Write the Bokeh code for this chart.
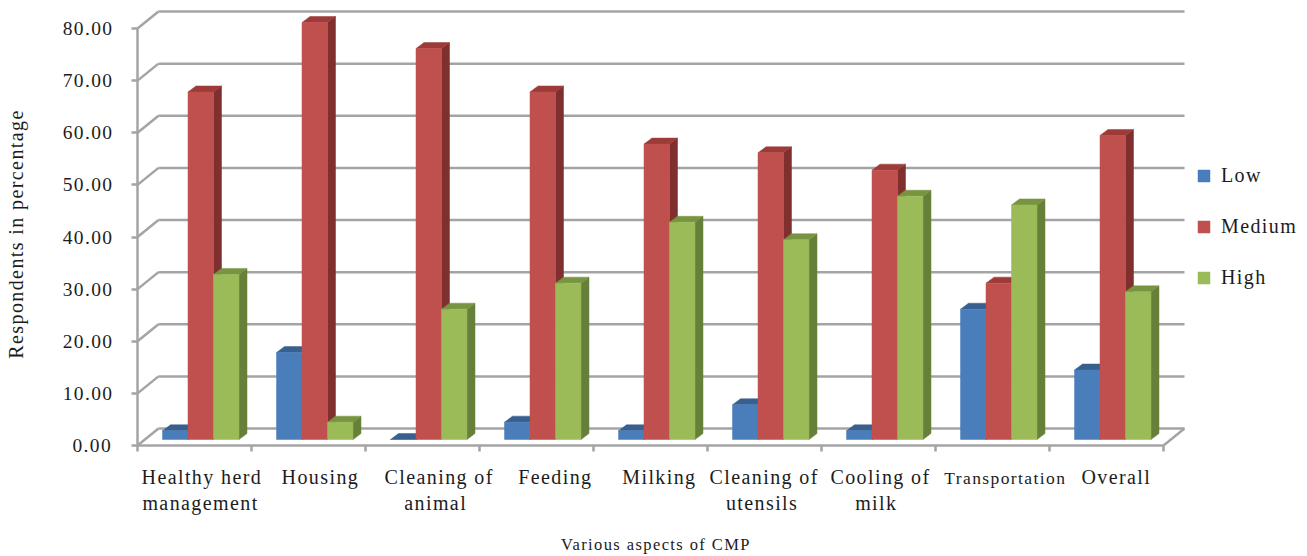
from bokeh.embed import file_html
from bokeh.models import FixedTicker, Label, Legend, LegendItem, LinearAxis, NumeralTickFormatter, Range1d
from bokeh.plotting import figure
from bokeh.resources import INLINE

# Respondents (%) by aspect of clean milk production
categories = [
    "Healthy herd\nmanagement", "Housing", "Cleaning of\nanimal",
    "Feeding", "Milking", "Cleaning of\nutensils",
    "Cooling of\nmilk", "Transportation", "Overall",
]
low = [1.67, 16.67, 0.0, 3.33, 1.67, 6.67, 1.67, 25.0, 13.33]
medium = [66.67, 80.0, 75.0, 66.67, 56.67, 55.0, 51.67, 30.0, 58.33]
high = [31.67, 3.33, 25.0, 30.0, 41.67, 38.33, 46.67, 45.0, 28.33]
y_ticks = [0, 10, 20, 30, 40, 50, 60, 70, 80]

# Page geometry, in pixels
W, H = 1307, 556
AXIS_X, AXIS_Y = 137, 445
PX_PER_CATEGORY = 114.0
PX_PER_TEN = 52.125


def data_x(px):
    return (px - AXIS_X) / PX_PER_CATEGORY


def data_y(px):
    return (AXIS_Y - px) / PX_PER_TEN * 10


WALL_DX = 21 / PX_PER_CATEGORY
WALL_DY = 17 / PX_PER_TEN * 10
BAR_W = 25.5 / PX_PER_CATEGORY
BAR_START = 25 / PX_PER_CATEGORY
BASE = 6 / PX_PER_TEN * 10
SIDE_DX = 8 / PX_PER_CATEGORY
TOP_DY = 6 / PX_PER_TEN * 10

GRID = "#a4a4a4"
GRID_W = 2.5
TEXT = "#1c1c1c"
FONT = "Liberation Serif"

# The frame fills the page; both axes sit inside it at fixed locations
p = figure(
    width=W, height=H, output_backend="svg", toolbar_location=None,
    x_range=Range1d(data_x(0), data_x(W)), y_range=Range1d(data_y(H), data_y(0)),
    x_axis_location=None, y_axis_location=None,
    min_border_left=0, min_border_right=0, min_border_top=0, min_border_bottom=0,
)
p.outline_line_color = None
p.grid.visible = False
# Widely tracked serif lettering throughout the chart
p.styles = {"letter-spacing": "1.4px"}

# Back wall and floor of the chart box
wall_y = [v + WALL_DY for v in y_ticks]
p.segment([WALL_DX] * len(y_ticks), wall_y, [9 + WALL_DX] * len(y_ticks), wall_y,
          line_color=GRID, line_width=GRID_W)
p.segment([0] * len(y_ticks), y_ticks, [WALL_DX] * len(y_ticks), wall_y,
          line_color=GRID, line_width=GRID_W)
p.segment([9], [0], [9 + WALL_DX], [WALL_DY], line_color=GRID, line_width=GRID_W)

# Each series: name, values, front / side / top colours
series = [
    ("Low", low, "#4a7ebb", "#2f5585", "#38608f"),
    ("Medium", medium, "#c0504d", "#7f2f2d", "#9c3b38"),
    ("High", high, "#9bbb59", "#66803a", "#789440"),
]

items = []
for k, (name, values, front, side, top) in enumerate(series):
    left = [i + BAR_START + k * BAR_W for i in range(9)]
    right = [x + BAR_W for x in left]
    tops = [BASE + v for v in values]
    p.patches(
        [[r, r + SIDE_DX, r + SIDE_DX, r] for r in right],
        [[BASE, BASE + TOP_DY, t + TOP_DY, t] for t in tops],
        fill_color=side, line_color=side, line_width=0.5,
    )
    p.patches(
        [[l, l + SIDE_DX, r + SIDE_DX, r] for l, r in zip(left, right)],
        [[t, t + TOP_DY, t + TOP_DY, t] for t in tops],
        fill_color=top, line_color=top, line_width=0.5,
    )
    bars = p.quad(left=left, right=right, bottom=BASE, top=tops,
                  fill_color=front, line_color=front, line_width=0.5)
    items.append(LegendItem(label=name, renderers=[bars]))

legend = Legend(
    items=items, location=(1196, H - 289), orientation="vertical",
    glyph_width=15, glyph_height=15, spacing=28, padding=0, margin=0,
    label_standoff=10, label_height=15,
    label_text_font=FONT, label_text_font_size="20px", label_text_color=TEXT,
    label_text_baseline="bottom",
    border_line_color=None, background_fill_alpha=0,
)
p.add_layout(legend, "center")

# Axes
ya = LinearAxis(fixed_location=0, ticker=FixedTicker(ticks=y_ticks), bounds=(0, 80),
                formatter=NumeralTickFormatter(format="0.00"))
ya.major_label_text_font = FONT
ya.major_label_text_font_size = "19.5px"
ya.major_label_text_color = TEXT
ya.major_label_standoff = 25
ya.axis_line_color = GRID
ya.axis_line_width = GRID_W
ya.major_tick_line_color = GRID
ya.major_tick_line_width = GRID_W
ya.major_tick_out = 6
ya.major_tick_in = 0
ya.minor_tick_line_color = None
p.add_layout(ya, "left")

# Captions are centred over each group; tick marks fall between groups.
# The one long caption is set smaller so it keeps within its slot.
LONG = categories.index("Transportation")
label_centres = [193, 315, 431, 550, 654, 756, 873, 995, 1111]
label_ticks = [data_x(c) for c in label_centres]
short_ticks = [t for i, t in enumerate(label_ticks) if i != LONG]
short_names = [c for i, c in enumerate(categories) if i != LONG]
xa = LinearAxis(fixed_location=0, bounds=(0, 9),
                ticker=FixedTicker(ticks=short_ticks, minor_ticks=list(range(10))))
xa.major_label_overrides = dict(zip(short_ticks, short_names))
xa.major_label_text_font = FONT
xa.major_label_text_font_size = "20px"
xa.major_label_text_color = TEXT
xa.major_label_standoff = 14
xa.axis_line_color = GRID
xa.axis_line_width = GRID_W
xa.major_tick_line_color = None
xa.minor_tick_line_color = GRID
xa.minor_tick_line_width = GRID_W
xa.minor_tick_out = 6
xa.minor_tick_in = 0
p.add_layout(xa, "below")

p.add_layout(Label(
    x=label_ticks[LONG], y=data_y(477), text=categories[LONG],
    text_align="center", text_baseline="middle",
    text_font=FONT, text_font_size="17.5px", text_color=TEXT,
))
p.add_layout(Label(
    x=data_x(640), y=data_y(544), text="Various aspects of CMP",
    text_align="center", text_baseline="middle",
    text_font=FONT, text_font_size="16.5px", text_color=TEXT,
))
p.add_layout(Label(
    x=data_x(15), y=data_y(251), text="Respondents in percentage", angle=90,
    angle_units="deg", text_align="center", text_baseline="middle",
    text_font=FONT, text_font_size="20px", text_color=TEXT,
))

open("out.html", "w").write(file_html(p, INLINE))
